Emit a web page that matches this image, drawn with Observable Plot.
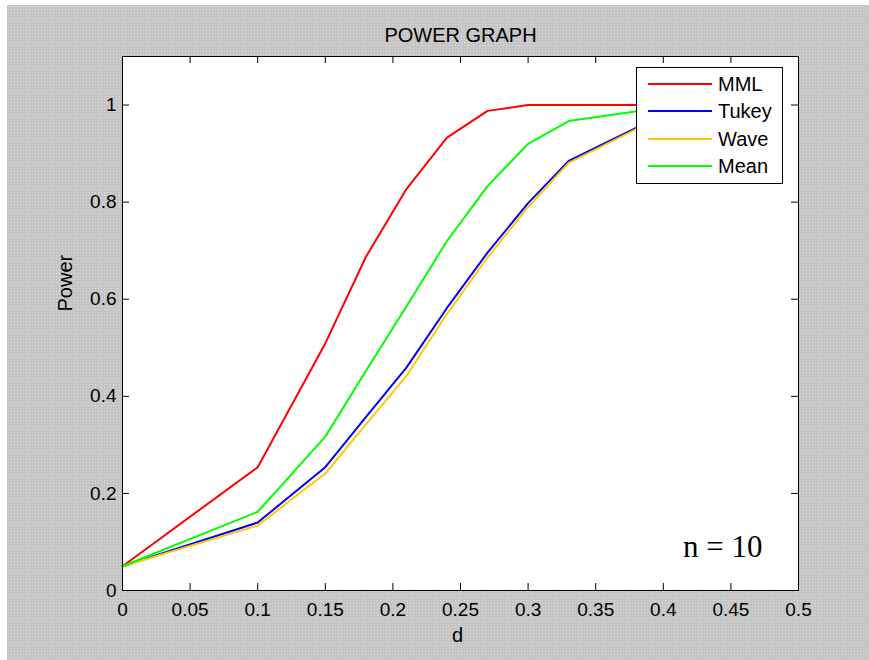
<!DOCTYPE html>
<html>
<head>
<meta charset="utf-8">
<script src="https://cdn.jsdelivr.net/npm/d3@7"></script>
<script src="https://cdn.jsdelivr.net/npm/@observablehq/plot@0.6"></script>
<style>
  html, body { margin: 0; padding: 0; background: #ffffff; }
  #wrap { position: relative; width: 869px; height: 660px; overflow: hidden; }
  #bg { position: absolute; left: 7px; top: 5px; right: 0; bottom: 0;
        background-color: #c5c5c5;
        background-image: radial-gradient(circle, #dcdcdc 0.7px, transparent 0.9px);
        background-size: 3px 3px; }
  #chart { position: absolute; left: 0; top: 0; }
  #legend { position: absolute; left: 636px; top: 67px; width: 145px; height: 115px;
            background: #ffffff; border: 1px solid #000; box-sizing: content-box;
            font-family: "Liberation Sans", Arial, sans-serif; font-size: 20px; color: #000; }
  .row { position: absolute; left: 0; height: 27px; width: 145px; }
  .row .sw { position: absolute; left: 11px; width: 64px; height: 2px; top: 12px; }
  .row .lb { position: absolute; left: 81px; top: 0; line-height: 26px; }
</style>
</head>
<body>
<div id="wrap"><div id="bg"></div><div id="chart"></div><div id="legend"></div></div>
<script>
// ---- data ----
const d      = [0, 0.10, 0.15, 0.18, 0.21, 0.24, 0.27, 0.30, 0.33, 0.40];
const mml    = [0.05, 0.254, 0.509, 0.687, 0.827, 0.933, 0.988, 1.000, 1.000, 1.000];
const tukey  = [0.05, 0.140, 0.254, 0.357, 0.459, 0.582, 0.696, 0.798, 0.885, 0.980];
const wave   = [0.05, 0.134, 0.241, 0.342, 0.442, 0.570, 0.686, 0.790, 0.881, 0.978];
const mean   = [0.05, 0.162, 0.317, 0.452, 0.585, 0.720, 0.833, 0.920, 0.967, 0.995];
const seriesNames  = ["MML", "Tukey", "Wave", "Mean"];
const seriesColors = ["#ff0000", "#0000ff", "#ffc800", "#00ff00"];
const xTicks = [0, 0.05, 0.1, 0.15, 0.2, 0.25, 0.3, 0.35, 0.4, 0.45, 0.5];
const yTicks = [0, 0.2, 0.4, 0.6, 0.8, 1];
const title = "POWER GRAPH";
const xLabel = "d";
const yLabel = "Power";
const note = "n = 10";

const seriesValues = [mml, tukey, wave, mean];
const rows = seriesNames.flatMap((name, i) => d.map((x, j) => ({series: name, d: x, p: seriesValues[i][j]})));

const W = 869, H = 660, mL = 122, mR = 71, mT = 56, mB = 70;
const plotW = W - mL - mR, plotH = H - mT - mB, tick = 7;
const fmt = v => String(+v.toFixed(2));

const chart = Plot.plot({
  width: W, height: H,
  marginLeft: mL, marginRight: mR, marginTop: mT, marginBottom: mB,
  style: {background: "transparent", fontFamily: "'Liberation Sans', Arial, sans-serif", fontSize: "19px", color: "#000"},
  x: {domain: [0, 0.5]},
  y: {domain: [0, 1.1]},
  color: {domain: seriesNames, range: seriesColors},
  marks: [
    Plot.frame({fill: "white"}),
    Plot.line(rows, {x: "d", y: "p", z: "series", stroke: "series", strokeWidth: 2}),
    Plot.frame({stroke: "black", strokeWidth: 1}),
    Plot.tickX(xTicks, {x: v => v, stroke: "black", insetTop: plotH - tick}),
    Plot.tickX(xTicks, {x: v => v, stroke: "black", insetBottom: plotH - tick}),
    Plot.tickY(yTicks, {y: v => v, stroke: "black", insetRight: plotW - tick}),
    Plot.tickY(yTicks, {y: v => v, stroke: "black", insetLeft: plotW - tick}),
    Plot.axisX({ticks: xTicks, tickSize: 0, tickPadding: 12, tickFormat: fmt, label: null, fontSize: 19}),
    Plot.axisY({ticks: yTicks, tickSize: 0, tickPadding: 6, tickFormat: fmt, label: null, fontSize: 19}),
    Plot.text([title], {text: t => t, frameAnchor: "top", dy: -21, lineAnchor: "middle", fontSize: 20}),
    Plot.text([xLabel], {text: t => t, frameAnchor: "bottom", dx: -3, dy: 45, lineAnchor: "middle", fontSize: 20}),
    Plot.text([yLabel], {text: t => t, frameAnchor: "left", dx: -57, dy: -12, rotate: -90, lineAnchor: "middle", fontSize: 20}),
    Plot.text([note], {text: t => t, frameAnchor: "bottom-right", dx: -36, dy: -34, textAnchor: "end", lineAnchor: "bottom",
                       fontFamily: "'Liberation Serif', 'Times New Roman', serif", fontSize: 31})
  ]
});
document.getElementById("chart").appendChild(chart);

// legend
const lg = document.getElementById("legend");
seriesNames.forEach((name, i) => {
  const r = document.createElement("div");
  r.className = "row";
  r.style.top = (3 + i * 27.3) + "px";
  r.innerHTML = `<div class="sw" style="background:${seriesColors[i]}"></div><div class="lb">${name}</div>`;
  lg.appendChild(r);
});
</script>
</body>
</html>
